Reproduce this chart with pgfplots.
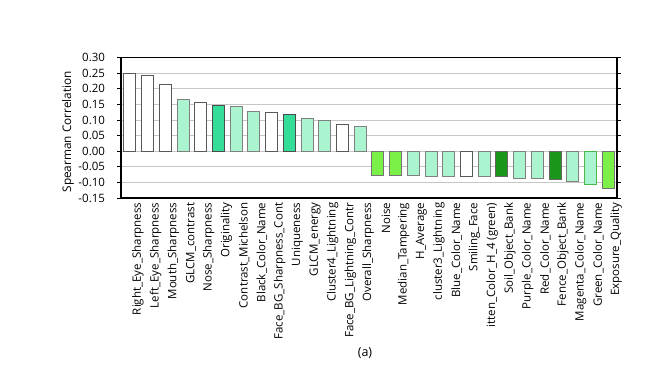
\documentclass[border=0pt]{standalone}
\usepackage{fontspec}
\setmainfont{Open Sans}
\usepackage{pgfplots}
\pgfplotsset{compat=1.18}
\definecolor{mint}{RGB}{170,245,208}
\definecolor{mteal}{RGB}{52,222,152}
\definecolor{bgreen}{RGB}{122,240,72}
\definecolor{dgreen}{RGB}{26,150,26}
\begin{document}
\begin{tikzpicture}
\path (0pt,0pt) rectangle (650pt,-391pt);
\begin{axis}[at={(121pt,-57.5pt)}, anchor=north west, scale only axis,
  width=496pt, height=140.5pt,
  xmin=-0.5, xmax=27.5, ymin=-0.15, ymax=0.30,
  ybar, bar width=12pt, bar shift=0pt,
  xtick={0,...,27},
  xticklabels={Right\_Eye\_Sharpness, Left\_Eye\_Sharpness, Mouth\_Sharpness, GLCM\_contrast, Nose\_Sharpness, Originality, Contrast\_Michelson, Black\_Color\_Name, Face\_BG\_Sharpness\_Cont, Uniqueness, GLCM\_energy, Cluster4\_Lightning, Face\_BG\_Lightning\_Contr, Overall\_Sharpness, Noise, Median\_Tampering, H\_Average, cluster3\_Lightning, Blue\_Color\_Name, Smiling\_Face, itten\_Color\_H\_4 (green), Soil\_Object\_Bank, Purple\_Color\_Name, Red\_Color\_Name, Fence\_Object\_Bank, Magenta\_Color\_Name, Green\_Color\_Name, Exposure\_Quality},
  xticklabel style={rotate=90, anchor=east, font=\fontsize{11.5}{13}\selectfont, inner sep=1pt, yshift=-8pt},
  major x tick style={draw=none},
  ytick={-0.15,-0.10,-0.05,0,0.05,0.10,0.15,0.20,0.25,0.30},
  yticklabel style={font=\fontsize{11.5}{13}\selectfont, xshift=-9pt},
  /pgf/number format/fixed, /pgf/number format/fixed zerofill, /pgf/number format/precision=2, /pgf/number format/assume math mode=true,
  tick align=outside, major tick length=3.5pt,
  major y tick style={black, line width=0.6pt},
  ymajorgrids, grid style={gray!45, line width=0.8pt},
  axis line style={black, line width=1.5pt},
  ylabel={Spearman Correlation},
  ylabel style={font=\fontsize{11.8}{13}\selectfont, xshift=-4pt, inner sep=1pt},
]
\addplot[fill=white, draw=black!65, line width=0.9pt] coordinates {(0,0.250) (1,0.243) (2,0.213) (4,0.156) (8,0.123) (12,0.087) (19,-0.080)};
\addplot[fill=mint, draw=black!50, line width=0.9pt] coordinates {(3,0.165) (6,0.144) (7,0.127) (10,0.105) (11,0.098) (13,0.078) (16,-0.079) (17,-0.080) (18,-0.080) (20,-0.081) (22,-0.088) (23,-0.088) (25,-0.096)};
\addplot[fill=mint, draw=green!60!black!70, line width=0.9pt] coordinates {(26,-0.106)};
\addplot[fill=mteal, draw=black!70, line width=0.9pt] coordinates {(5,0.146) (9,0.119)};
\addplot[fill=bgreen, draw=black!55, line width=0.9pt] coordinates {(14,-0.077) (15,-0.077) (27,-0.119)};
\addplot[fill=dgreen, draw=black!60, line width=0.9pt] coordinates {(21,-0.081) (24,-0.092)};
\end{axis}
\node[font=\fontsize{12.5}{14}\selectfont] at (365pt,-353pt) {(a)};
\end{tikzpicture}
\end{document}
